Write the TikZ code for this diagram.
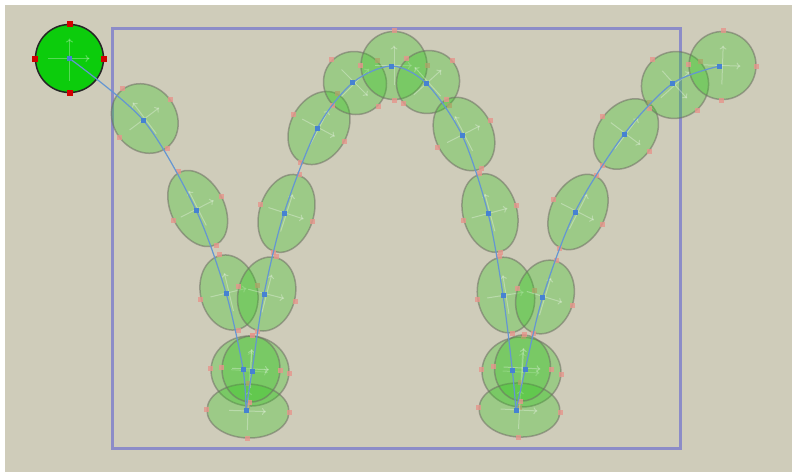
\documentclass[tikz,border=0pt]{standalone}
\usepackage{xcolor}
\usetikzlibrary{arrows.meta,calc,shapes.geometric}

\definecolor{sand}{RGB}{207,204,186}
\definecolor{stageblue}{RGB}{140,140,200}
\definecolor{headgreen}{RGB}{12,204,12}
\definecolor{blobgreen}{RGB}{50,200,30}
\definecolor{rimgray}{RGB}{110,110,100}
\definecolor{grippink}{RGB}{230,150,140}
\definecolor{gripred}{RGB}{210,0,0}
\definecolor{spineblue}{RGB}{100,150,210}
\definecolor{jointblue}{RGB}{70,130,210}

\begin{document}
\begin{tikzpicture}[
    x=1pt, y=-1pt,
    blob/.style={ellipse, draw=rimgray, draw opacity=.55, line width=1.5pt, fill=blobgreen, fill opacity=.32, inner sep=0pt},
    grip/.style={rectangle, fill=grippink, fill opacity=.8, minimum size=5pt, inner sep=0pt},
    axisarrow/.style={-{To[length=4pt,width=7pt]}, draw=white, draw opacity=.3, line width=1pt},
    spine/.style={draw=spineblue, line width=1.2pt},
    joint/.style={fill=jointblue},
]
\useasboundingbox (0,0) rectangle (792,472);
\fill[sand] (5,5) rectangle (792,472);
\draw[stageblue, line width=3pt] (112.5,28.7) rectangle (680.7,448.3);

% root handle
\node[circle, draw=black!85, line width=1.5pt, fill=headgreen, minimum size=68pt, inner sep=0pt] (head) at (69.5,58.5) {};
\draw[axisarrow] ($(head.center)!22pt!(head.west)$) -- ($(head.center)!20pt!(head.east)$);
\draw[axisarrow] ($(head.center)!22pt!(head.south)$) -- ($(head.center)!20pt!(head.north)$);
\foreach \s in {north,south,east,west}
    \node[grip, fill=gripred, fill opacity=1, minimum size=6pt] (head-\s) at (head.\s) {};

% segments: number / x / y / angle / width / height
\foreach \n/\x/\y/\a/\w/\h in {
    1/144.8/118.5/37/63/73, 2/197.7/208.5/27/53/81, 3/229/292.5/13.5/57/76,
    4/250/371/-4/78/70, 5/248/411/-2/82/54, 6/251/369/-2/58/66,
    7/266.7/294/-14.5/57/75, 8/286.5/213.4/-18/54/80, 9/319/128/-28/57/77,
    10/355/83/-45/64/62, 11/394/65.5/0/66/68, 12/428/82/42/64/62,
    13/464/134/27/57/77, 14/490/213/15/54/80, 15/506/295/9/57/76,
    16/521.5/372/-3/79/70, 17/519.5/410/-3/81/54, 18/522.5/368/-3/56/66,
    19/545/297/-17/57/75, 20/578/212/-27/54/80, 21/626/134/-37/57/77,
    22/675/85/-48/66/68, 23/722.5/65.5/-2/67/68}{
    \node[blob, rotate=\a, minimum width=\w, minimum height=\h] (e\n) at (\x,\y) {};
    \draw[axisarrow] ($(e\n.center)!19pt!(e\n.west)$) -- ($(e\n.center)!18pt!(e\n.east)$);
    \draw[axisarrow] ($(e\n.center)!19pt!(e\n.south)$) -- ($(e\n.center)!20pt!(e\n.north)$);
    \foreach \s in {north,south,east,west}
        \node[grip] (e\n-\s) at (e\n.\s) {};
}

% joints along the spine
\foreach \n/\x/\y in {
    0/69.5/58.5, 1/143.7/120.7, 2/196/210, 3/226/293, 4/243/369, 5/246/410.5,
    6/252/371, 7/264/294, 8/284/213.3, 9/317.3/128.3, 10/352.7/82.7, 11/391.7/66,
    12/426.3/83.3, 13/462.3/135.7, 14/488/213, 15/503/295, 16/512.3/370, 17/516/410.7,
    18/525.3/369, 19/542.7/297.3, 20/575/212, 21/624/134.3, 22/672.7/83.3, 23/719.7/66}
    \coordinate (j\n) at (\x,\y);

\draw[spine] plot[smooth] coordinates {(j0) (j1) (j2) (j3) (j4) (j5)};
\draw[spine] plot[smooth] coordinates {(j5) (j6) (j7) (j8) (j9) (j10) (j11) (j12) (j13) (j14) (j15) (j16) (j17)};
\draw[spine] plot[smooth] coordinates {(j17) (j18) (j19) (j20) (j21) (j22) (j23)};

\foreach \n in {0,...,23}
    \fill[joint] (j\n) ++(-2.5,-2.5) rectangle ++(5,5);
\end{tikzpicture}
\end{document}
